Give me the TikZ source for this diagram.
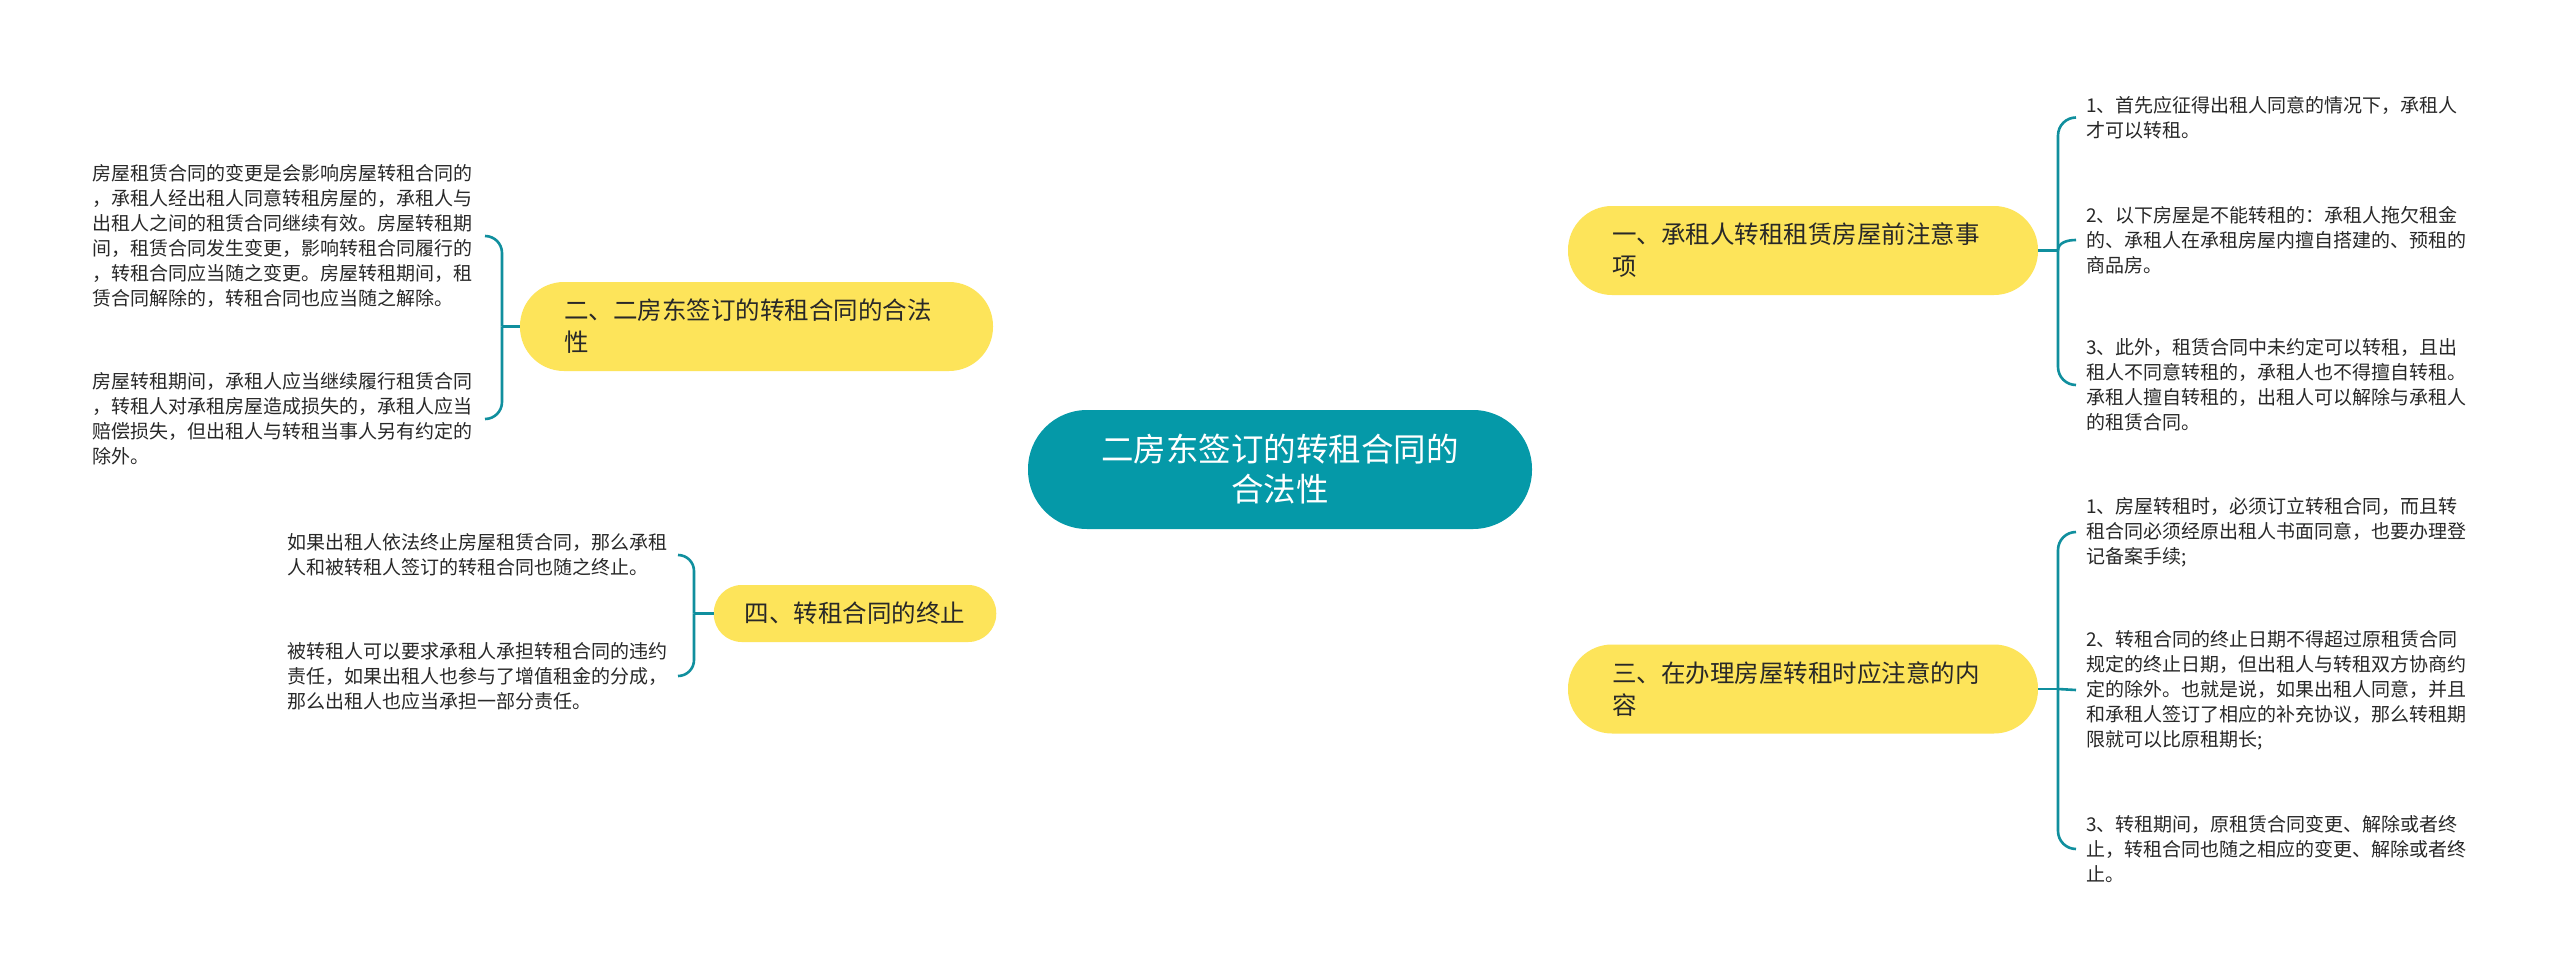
\documentclass[tikz,border=0pt]{standalone}
\usepackage{fontspec}
\setmainfont{Noto Sans CJK SC}
\usetikzlibrary{backgrounds}

\definecolor{rootteal}{RGB}{5,153,168}
\definecolor{linkteal}{RGB}{16,143,158}
\definecolor{topicyellow}{RGB}{253,228,90}
\definecolor{inkgray}{RGB}{40,40,40}

\tikzset{
  root/.style={fill=rootteal, text=white, rounded corners=59pt, minimum width=504pt,
    minimum height=119pt, align=center, font=\fontsize{32.5}{40}\selectfont},
  topic/.style={fill=topicyellow, text=inkgray, rounded corners=44pt, text width=382pt,
    inner xsep=44pt, minimum height=89pt, align=left, font=\fontsize{24.5}{32}\selectfont},
  smalltopic/.style={fill=topicyellow, text=inkgray, rounded corners=28pt, inner xsep=31pt,
    minimum height=57pt, font=\fontsize{24.5}{32}\selectfont},
  leaf/.style={text=inkgray, inner xsep=10pt, inner ysep=0pt, align=left,
    font=\fontsize{19}{25}\selectfont},
  link/.style={draw=linkteal, line width=2.6pt},
}

\begin{document}
\begin{tikzpicture}[x=1pt,y=-1pt]
    \fill[white] (0,0) rectangle (2560,977);
    \useasboundingbox (0,0) rectangle (2560,977);

    \node[root] (ctr) at (1280,469.5) {二房东签订的转租合同的\\合法性};

    \node[topic] (one) at (1803,250.5) {一、承租人转租租赁房屋前注意事\\项};
    \node[topic] (three) at (1803,689) {三、在办理房屋转租时应注意的内\\容};
    \node[topic, text width=385pt] (two) at (756.5,326.5) {二、二房东签订的转租合同的合法\\性};
    \node[smalltopic] (four) at (855,613.5) {四、转租合同的终止};

    % main branches
    \begin{scope}[on background layer]
        \draw[link] (ctr.center) .. controls (1295,290) and (1360,250.5) .. (one.west);
        \draw[link] (ctr.center) .. controls (1295,650) and (1360,689) .. (three.west);
        \draw[link] (ctr.center) .. controls (1262,350) and (1190,326.5) .. (two.east);
        \draw[link] (ctr.center) .. controls (1262,590) and (1190,613.5) .. (four.east);
    \end{scope}

    % leaves, right
    \node[leaf, anchor=west] (l1a) at (2076,117.5) {1、首先应征得出租人同意的情况下，承租人\\才可以转租。};
    \node[leaf, anchor=west] (l1b) at (2076,240) {2、以下房屋是不能转租的：承租人拖欠租金\\的、承租人在承租房屋内擅自搭建的、预租的\\商品房。};
    \node[leaf, anchor=west] (l1c) at (2076,385) {3、此外，租赁合同中未约定可以转租，且出\\租人不同意转租的，承租人也不得擅自转租。\\承租人擅自转租的，出租人可以解除与承租人\\的租赁合同。};
    \node[leaf, anchor=west] (l3a) at (2076,532) {1、房屋转租时，必须订立转租合同，而且转\\租合同必须经原出租人书面同意，也要办理登\\记备案手续;};
    \node[leaf, anchor=west] (l3b) at (2076,690) {2、转租合同的终止日期不得超过原租赁合同\\规定的终止日期，但出租人与转租双方协商约\\定的除外。也就是说，如果出租人同意，并且\\和承租人签订了相应的补充协议，那么转租期\\限就可以比原租期长;};
    \node[leaf, anchor=west] (l3c) at (2076,849) {3、转租期间，原租赁合同变更、解除或者终\\止，转租合同也随之相应的变更、解除或者终\\止。};

    % leaves, left
    \node[leaf, inner xsep=12pt, anchor=east] (l2a) at (485,236) {房屋租赁合同的变更是会影响房屋转租合同的\\，承租人经出租人同意转租房屋的，承租人与\\出租人之间的租赁合同继续有效。房屋转租期\\间，租赁合同发生变更，影响转租合同履行的\\，转租合同应当随之变更。房屋转租期间，租\\赁合同解除的，转租合同也应当随之解除。};
    \node[leaf, inner xsep=12pt, anchor=east] (l2b) at (485,419) {房屋转租期间，承租人应当继续履行租赁合同\\，转租人对承租房屋造成损失的，承租人应当\\赔偿损失，但出租人与转租当事人另有约定的\\除外。};
    \node[leaf, anchor=east] (l4a) at (678,555) {如果出租人依法终止房屋租赁合同，那么承租\\人和被转租人签订的转租合同也随之终止。};
    \node[leaf, anchor=east] (l4b) at (678,676) {被转租人可以要求承租人承担转租合同的违约\\责任，如果出租人也参与了增值租金的分成，\\那么出租人也应当承担一部分责任。};

    % brackets
    \coordinate (j1) at (2058,250.5);
    \coordinate (j3) at (2058,689);
    \coordinate (j2) at (502,326.5);
    \coordinate (j4) at (694,613.5);

    \draw[link] (one.east) -- (j1);
    \draw[link, rounded corners=18pt] (j1) |- (l1a.west);
    \draw[link] (j1) to[out=90,in=180] (l1b.west);
    \draw[link, rounded corners=18pt] (j1) |- (l1c.west);

    \draw[link] (three.east) -- (j3);
    \draw[link, rounded corners=18pt] (j3) |- (l3a.west);
    \draw[link] (j3) -- (l3b.west);
    \draw[link, rounded corners=18pt] (j3) |- (l3c.west);

    \draw[link] (two.west) -- (j2);
    \draw[link, rounded corners=17pt] (j2) |- (l2a.east);
    \draw[link, rounded corners=17pt] (j2) |- (l2b.east);

    \draw[link] (four.west) -- (j4);
    \draw[link, rounded corners=16pt] (j4) |- (l4a.east);
    \draw[link, rounded corners=16pt] (j4) |- (l4b.east);
\end{tikzpicture}
\end{document}
